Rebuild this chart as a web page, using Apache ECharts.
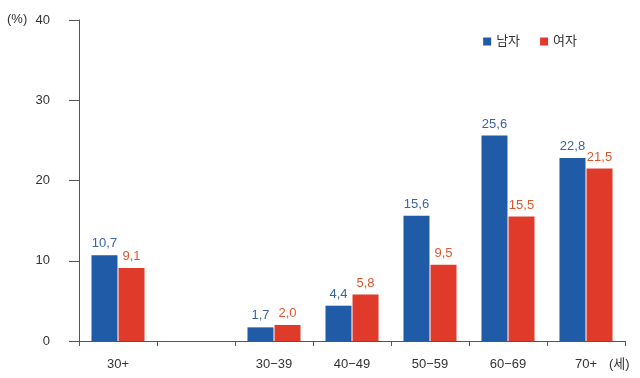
<!DOCTYPE html>
<html><head><meta charset="utf-8">
<script src="https://cdn.jsdelivr.net/npm/echarts@6/dist/echarts.min.js"></script>
<style>html,body{margin:0;padding:0;background:#fff}#c{width:640px;height:378px}</style>
</head><body><div id="c"></div>
<script>
const categories = ['30+', '', '30\u221239', '40\u221249', '50\u221259', '60\u221269', '70+'];
const male = [10.7, null, 1.7, 4.4, 15.6, 25.6, 22.8];
const female = [9.1, null, 2.0, 5.8, 9.5, 15.5, 21.5];
const yTicks = [0, 10, 20, 30, 40];
const seriesNames = ['남자', '여자'];

const font = '"Liberation Sans", "Noto Sans CJK KR", sans-serif';
const fmt = p => p.value == null ? '' : p.value.toFixed(1).replace('.', ',');
const chart = echarts.init(document.getElementById('c'));
chart.setOption({
  animation: false,
  textStyle: { fontFamily: font },
  legend: {
    data: seriesNames, right: 58, top: 30, itemWidth: 8, itemHeight: 8, itemGap: 20,
    icon: 'rect', textStyle: { fontSize: 13, color: '#333', fontFamily: font }
  },
  grid: { left: 79, right: 15, top: 20, bottom: 37 },
  xAxis: {
    type: 'category', data: categories,
    axisLine: { lineStyle: { color: '#555' } },
    axisTick: { show: true, length: 5, lineStyle: { color: '#555' } },
    axisLabel: { color: '#333', fontSize: 13, margin: 17, fontFamily: font }
  },
  yAxis: {
    type: 'value', min: yTicks[0], max: yTicks[yTicks.length - 1], interval: 10,
    splitLine: { show: false },
    axisLine: { show: true, lineStyle: { color: '#555' } },
    axisTick: { show: true, length: 10, lineStyle: { color: '#555' } },
    axisLabel: { color: '#333', fontSize: 13, margin: 29, fontFamily: font }
  },
  graphic: [
    { type: 'text', left: 7, top: 13, style: { text: '(%)', fill: '#333', font: '13px ' + font } },
    { type: 'text', left: 609, top: 358, style: { text: '(세)', fill: '#333', font: '13px ' + font } }
  ],
  series: [
    { name: seriesNames[0], type: 'bar', data: male, barWidth: 26, barGap: '4%',
      itemStyle: { color: '#1f5ba6' },
      label: { show: true, position: 'top', distance: 5, color: '#3b64a8', fontSize: 13, fontFamily: font, formatter: fmt } },
    { name: seriesNames[1], type: 'bar', data: female, barWidth: 26, barGap: '4%',
      itemStyle: { color: '#e03b2a' },
      label: { show: true, position: 'top', distance: 5, color: '#e0562c', fontSize: 13, fontFamily: font, formatter: fmt } }
  ]
});
</script></body></html>
